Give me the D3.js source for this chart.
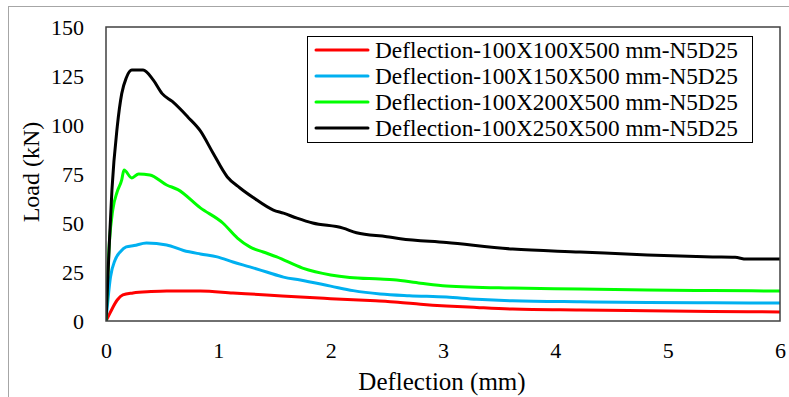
<!DOCTYPE html>
<html>
<head>
<meta charset="utf-8">
<script src="https://cdn.jsdelivr.net/npm/d3@7"></script>
<style>
  html, body { margin: 0; padding: 0; background: #fff; }
  svg { display: block; }
</style>
</head>
<body>
<svg id="chart" width="789" height="397"></svg>
<script>
// Load–deflection curves for four beam sections (deflection in mm, load in kN)
const seriesNames = [
  "Deflection-100X100X500 mm-N5D25",
  "Deflection-100X150X500 mm-N5D25",
  "Deflection-100X200X500 mm-N5D25",
  "Deflection-100X250X500 mm-N5D25"
];
const seriesColors = ["#FF0000", "#00B0F0", "#00FF00", "#000000"];

const defl100 = [0, 0.04, 0.1, 0.15, 0.24, 0.4, 0.54, 0.84, 1.13, 1.43, 1.73, 2.0, 2.4, 2.6, 2.8, 3.03, 3.3, 3.62, 4.22, 4.82, 5.4, 6.0];
const load100 = [0, 4.6, 10.7, 13.3, 14.3, 15.0, 15.3, 15.3, 14.3, 13.3, 12.2, 11.4, 10.3, 9.6, 8.6, 7.7, 6.9, 6.1, 5.6, 5.2, 4.9, 4.6];

const defl150 = [0, 0.04, 0.08, 0.13, 0.18, 0.25, 0.36, 0.54, 0.69, 0.84, 0.99, 1.13, 1.28, 1.43, 1.58, 1.73, 2.0, 2.2, 2.44, 2.7, 3.03, 3.3, 3.62, 4.22, 4.82, 5.4, 6.0];
const load150 = [0, 22.4, 31, 35.5, 37.8, 38.5, 39.8, 38.8, 36, 34.2, 32.7, 30.1, 27.6, 25, 22.4, 20.9, 17.8, 15.5, 13.8, 12.9, 12.2, 11.1, 10.3, 9.8, 9.5, 9.3, 9.2];

const defl200 = [0, 0.03, 0.06, 0.1, 0.14, 0.16, 0.23, 0.29, 0.39, 0.54, 0.64, 0.84, 1.04, 1.17, 1.28, 1.4, 1.52, 1.75, 2.0, 2.17, 2.44, 2.56, 2.8, 3.03, 3.62, 4.22, 4.82, 5.4, 6.0];
const load200 = [0, 40, 56.6, 66, 72, 77, 73, 75, 74.5, 69.4, 67, 57.7, 50, 42.3, 37.8, 35.2, 32.7, 27, 23.5, 22.2, 21.4, 21.0, 19.3, 17.9, 16.8, 16.3, 15.8, 15.5, 15.3];

const defl250 = [0, 0.03, 0.053, 0.1, 0.14, 0.18, 0.23, 0.33, 0.42, 0.5, 0.59, 0.73, 0.84, 0.95, 1.08, 1.19, 1.31, 1.49, 1.58, 1.7, 1.84, 2.11, 2.23, 2.5, 2.62, 3.03, 3.62, 4.22, 4.82, 5.4, 5.6, 5.7, 6.0];
const load250 = [0, 40, 67, 99, 116, 124, 128, 128, 123, 116, 112, 104, 97, 86, 73.5, 68, 63, 56.6, 55, 52.5, 50, 47.4, 45, 43, 42, 40, 36.7, 35.2, 33.7, 32.7, 32.5, 31.6, 31.6];

const xTicks = [0, 1, 2, 3, 4, 5, 6];
const yTicks = [0, 25, 50, 75, 100, 125, 150];

const series = [
  { x: defl100, y: load100 },
  { x: defl150, y: load150 },
  { x: defl200, y: load200 },
  { x: defl250, y: load250 }
];

const FONT = "'Liberation Serif', 'Times New Roman', 'DejaVu Serif', serif";
const svg = d3.select("#chart");

// Outer chart-area frame
svg.append("rect")
  .attr("x", 8.5).attr("y", 6.5)
  .attr("width", 820).attr("height", 420)
  .attr("fill", "none").attr("stroke", "#A6A6A6").attr("stroke-width", 1);

const plot = { left: 106, right: 780, top: 27, bottom: 321 };

const x = d3.scaleLinear().domain([0, 6]).range([plot.left, plot.right]);
const y = d3.scaleLinear().domain([0, 150]).range([plot.bottom, plot.top]);

// Curves
const line = d3.line()
  .x(d => x(d[0]))
  .y(d => y(d[1]))
  .curve(d3.curveMonotoneX);

svg.append("clipPath").attr("id", "plotclip")
  .append("rect")
  .attr("x", plot.left).attr("y", plot.top - 5)
  .attr("width", plot.right - plot.left).attr("height", plot.bottom - plot.top + 5);

svg.append("g").attr("clip-path", "url(#plotclip)")
  .selectAll("path")
  .data(series)
  .join("path")
  .attr("d", s => line(s.x.map((v, i) => [v, s.y[i]])))
  .attr("fill", "none")
  .attr("stroke", (s, i) => seriesColors[i])
  .attr("stroke-width", 3)
  .attr("stroke-linejoin", "round")
  .attr("stroke-linecap", "round");

// Plot-area border
svg.append("rect")
  .attr("x", plot.left).attr("y", plot.top)
  .attr("width", plot.right - plot.left).attr("height", plot.bottom - plot.top)
  .attr("fill", "none").attr("stroke", "#404040").attr("stroke-width", 1.5);

// Axes (labels only, no tick marks)
const xAxis = d3.axisBottom(x).tickValues(xTicks).tickSize(0).tickPadding(0).tickFormat(d3.format("d"));
const gx = svg.append("g").attr("transform", `translate(0,358)`).call(xAxis);
gx.select(".domain").remove();
gx.selectAll("text").attr("y", 0).attr("dy", 0).attr("fill", "#000")
  .style("font-family", FONT).style("font-size", "22px");

const yAxis = d3.axisLeft(y).tickValues(yTicks).tickSize(0).tickPadding(0).tickFormat(d3.format("d"));
const gy = svg.append("g").attr("transform", `translate(84,0)`).call(yAxis);
gy.select(".domain").remove();
gy.selectAll("text").attr("fill", "#000")
  .style("font-family", FONT).style("font-size", "22px");

// Axis titles
svg.append("text")
  .attr("x", 442).attr("y", 390)
  .attr("text-anchor", "middle")
  .style("font-family", FONT).style("font-size", "25px").attr("fill", "#000")
  .text("Deflection (mm)");

svg.append("text")
  .attr("transform", `translate(39,172) rotate(-90)`)
  .attr("text-anchor", "middle")
  .style("font-family", FONT).style("font-size", "24px").attr("fill", "#000")
  .text("Load (kN)");

// Legend
const legend = svg.append("g");
legend.append("rect")
  .attr("x", 307.5).attr("y", 36.5).attr("width", 445).attr("height", 106)
  .attr("fill", "#fff").attr("stroke", "#000").attr("stroke-width", 1);

const rows = legend.selectAll("g.row").data(seriesNames).join("g")
  .attr("class", "row")
  .attr("transform", (d, i) => `translate(0,${50 + i * 26})`);
rows.append("line")
  .attr("x1", 316).attr("x2", 368).attr("y1", 0).attr("y2", 0)
  .attr("stroke", (d, i) => seriesColors[i]).attr("stroke-width", 3)
  .attr("stroke-linecap", "round");
rows.append("text")
  .attr("x", 375).attr("y", 0).attr("dy", "0.35em")
  .style("font-family", FONT).style("font-size", "23.3px").attr("fill", "#000")
  .text(d => d);
</script>
</body>
</html>
